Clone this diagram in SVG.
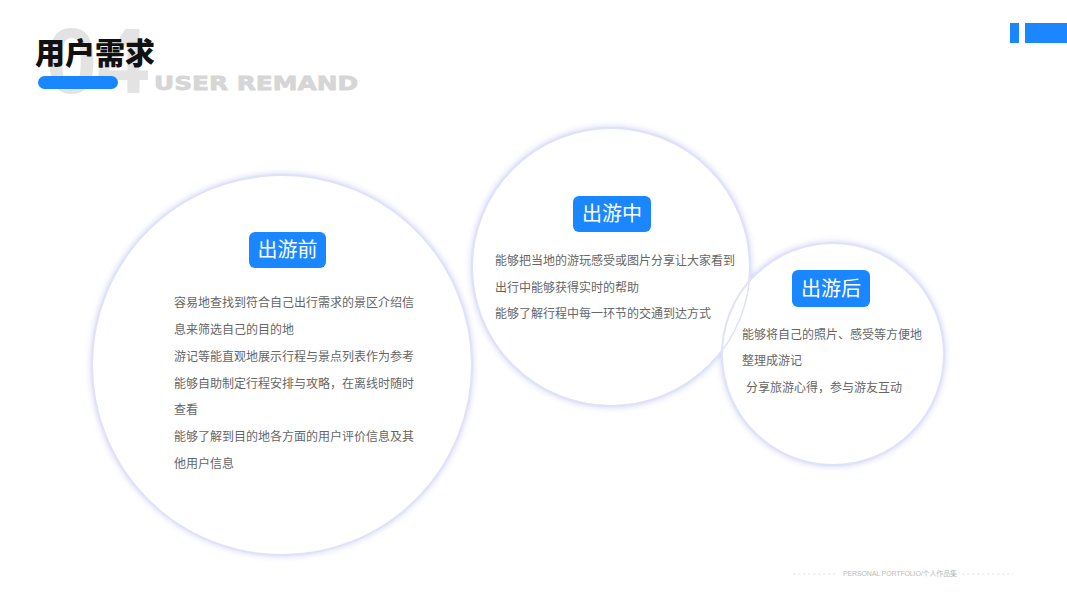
<svg xmlns="http://www.w3.org/2000/svg" width="1067" height="600" viewBox="0 0 1067 600">
<defs>
<style>
.body{font-family:"Noto Sans CJK SC","Noto Sans",sans-serif;font-size:12px;fill:#666666}
.badge{fill:#1A86FF}
.badgeText{font-family:"Noto Sans CJK SC","Noto Sans",sans-serif;font-size:20px;fill:#ffffff;text-anchor:middle}
.circle{fill:#ffffff;stroke:#dfe2f8;stroke-width:2}
.ring{fill:none;stroke:#dfe2f8;stroke-width:1.5}
</style>
<filter id="glow" x="-20%" y="-20%" width="140%" height="140%">
<feDropShadow dx="0" dy="0" stdDeviation="3" flood-color="#c9cdf5" flood-opacity="0.9"/>
</filter>
</defs>
<rect width="1067" height="600" fill="#ffffff"/>
<g id="header">
<text x="46" y="93" font-family="Liberation Sans, sans-serif" font-weight="bold" font-size="92" fill="#e3e3e3">04</text>
<text x="154" y="90" font-family="DejaVu Sans, sans-serif" font-weight="bold" font-size="20" fill="#d6d6d6" textLength="204" lengthAdjust="spacingAndGlyphs" stroke="#d6d6d6" stroke-width="0.8">USER REMAND</text>
<rect x="38" y="76" width="80" height="13" rx="6.5" fill="#1A86FF"/>
<text x="35" y="64" font-family="Noto Sans CJK SC, sans-serif" font-weight="900" font-size="30" fill="#111111">用户需求</text>
</g>
<g id="corner">
<rect x="1010" y="23" width="9" height="20" fill="#1A86FF"/>
<rect x="1025" y="23" width="42" height="20" fill="#1A86FF"/>
</g>
<g id="circles" filter="url(#glow)">
<circle class="circle" cx="282" cy="365" r="190"/>
<circle class="circle" cx="611" cy="267" r="139"/>
<circle class="circle" cx="833" cy="354" r="111"/>
</g>
<g id="rings">
<circle class="ring" cx="611" cy="267" r="139"/>
</g>
<g id="node-before">
<rect class="badge" x="249" y="232" width="77" height="36" rx="6"/>
<text class="badgeText" x="287.5" y="257">出游前</text>
<text class="body" x="174" y="307">容易地查找到符合自己出行需求的景区介绍信</text>
<text class="body" x="174" y="334">息来筛选自己的目的地</text>
<text class="body" x="174" y="361">游记等能直观地展示行程与景点列表作为参考</text>
<text class="body" x="174" y="388">能够自助制定行程安排与攻略，在离线时随时</text>
<text class="body" x="174" y="414">查看</text>
<text class="body" x="174" y="441">能够了解到目的地各方面的用户评价信息及其</text>
<text class="body" x="174" y="468">他用户信息</text>
</g>
<g id="node-during">
<rect class="badge" x="573" y="196" width="78" height="36" rx="6"/>
<text class="badgeText" x="612" y="221">出游中</text>
<text class="body" x="495" y="265">能够把当地的游玩感受或图片分享让大家看到</text>
<text class="body" x="495" y="292">出行中能够获得实时的帮助</text>
<text class="body" x="495" y="318">能够了解行程中每一环节的交通到达方式</text>
</g>
<g id="node-after">
<rect class="badge" x="792" y="270" width="78" height="37" rx="6"/>
<text class="badgeText" x="831" y="296">出游后</text>
<text class="body" x="742" y="339">能够将自己的照片、感受等方便地</text>
<text class="body" x="742" y="365">整理成游记</text>
<text class="body" x="746" y="392">分享旅游心得，参与游友互动</text>
</g>
<g id="connectors"></g>
<g id="footer">
<line x1="793" y1="574" x2="838" y2="574" stroke="#dddddd" stroke-width="0.8" stroke-dasharray="2.5,2.5"/>
<text x="843" y="576" font-family="Liberation Sans, Noto Sans CJK SC, sans-serif" font-size="7" fill="#bbbbbb" textLength="114">PERSONAL  PORTFOLIO/个人作品集</text>
<line x1="962" y1="574" x2="1013" y2="574" stroke="#dddddd" stroke-width="0.8" stroke-dasharray="2.5,2.5"/>
</g>
</svg>
